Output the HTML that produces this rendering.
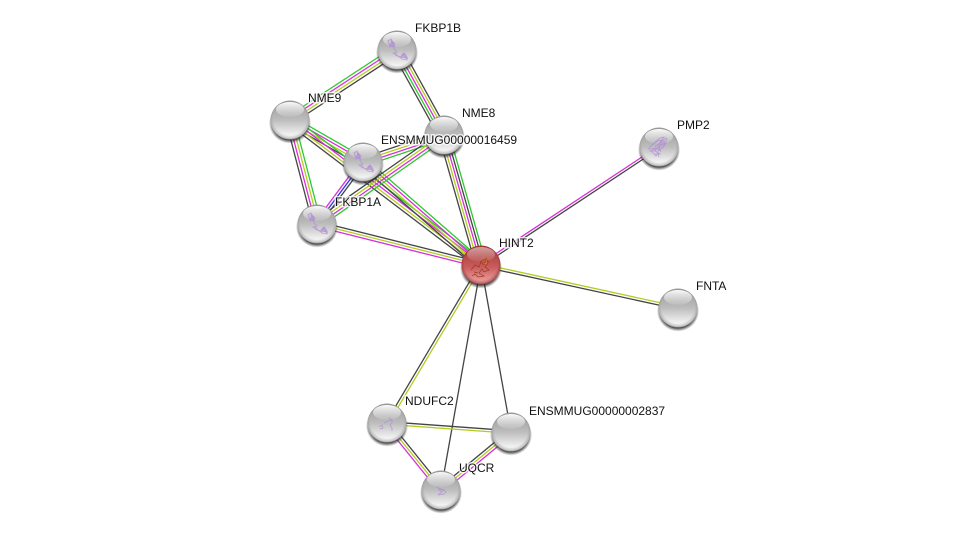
<!DOCTYPE html>
<html><head><meta charset="utf-8"><style>
html,body{margin:0;padding:0;background:#fff;width:975px;height:535px;overflow:hidden}
svg{display:block}
text{font-family:"Liberation Sans",sans-serif;font-size:12px;fill:#111;paint-order:stroke;stroke:#fff;stroke-width:3px;stroke-opacity:.75}
.e line{stroke-width:1.3;fill:none}
.k{stroke:#444}.g{stroke:#2fc72f}.m{stroke:#d92fd9}.y{stroke:#b5cc22}.b{stroke:#3333ee}
.s path{fill:none;stroke:#b08fd6;stroke-width:.8;stroke-opacity:.8}
.r path{fill:none;stroke:#9a3a20;stroke-width:.7}
</style></head><body>
<svg width="975" height="535" viewBox="0 0 975 535" xmlns="http://www.w3.org/2000/svg">
<defs>
<linearGradient id="base" x1="0" y1="0" x2="0" y2="1"><stop offset="0" stop-color="#989898"/><stop offset=".5" stop-color="#bdbdbd"/><stop offset=".88" stop-color="#f2f2f2"/><stop offset="1" stop-color="#fdfdfd"/></linearGradient>
<radialGradient id="rim" cx=".5" cy=".46" r=".54"><stop offset=".8" stop-color="#777" stop-opacity="0"/><stop offset=".95" stop-color="#777" stop-opacity=".4"/><stop offset="1" stop-color="#666" stop-opacity=".85"/></radialGradient>
<linearGradient id="hl" x1="0" y1="0" x2="0" y2="1"><stop offset="0" stop-color="#fff" stop-opacity=".95"/><stop offset="1" stop-color="#fff" stop-opacity=".08"/></linearGradient>
<radialGradient id="sh" cx=".5" cy=".5" r=".5"><stop offset=".82" stop-color="#222" stop-opacity=".85"/><stop offset="1" stop-color="#333" stop-opacity="0"/></radialGradient>
<linearGradient id="redb" x1="0" y1="0" x2="0" y2="1"><stop offset="0" stop-color="#a03434"/><stop offset=".55" stop-color="#c95c5c"/><stop offset="1" stop-color="#f4a8a8"/></linearGradient>
<radialGradient id="redr" cx=".5" cy=".46" r=".54"><stop offset=".8" stop-color="#7a1a1a" stop-opacity="0"/><stop offset=".95" stop-color="#7a1a1a" stop-opacity=".45"/><stop offset="1" stop-color="#701515" stop-opacity=".9"/></radialGradient>
<g id="n"><ellipse cx="0" cy="3" rx="21" ry="20.5" fill="url(#sh)"/><circle r="19.5" fill="url(#base)"/><circle r="19.5" fill="url(#rim)"/><ellipse cx="0" cy="-10.5" rx="14" ry="7.5" fill="url(#hl)"/></g>
<g id="nr"><ellipse cx="0" cy="3" rx="21" ry="20.5" fill="url(#sh)"/><circle r="19.5" fill="url(#redb)"/><circle r="19.5" fill="url(#redr)"/><ellipse cx="0" cy="-10.5" rx="14" ry="7.5" fill="url(#hl)" opacity=".55"/></g>
<g id="p1" fill="none" stroke="#b08fd6" stroke-width=".8" stroke-opacity=".8"><path d="M-9-9l3-2 2 4-3 3 4 1-2-6 3 3-1 5 3 3-4 1 4 3 5 1 2-4 2 3 1 4-5-1-4-3-3-3"/><path d="M-8-7l4 4-2-6 3 2-1 4M5 4l3 3-4 0 4-3 3 5"/><path d="M-9-10l2 7 2-6 2 5M4 6l3-3 2 5-5-1"/></g>
</defs>

<g class="e">
<g transform="translate(290 120) rotate(-33.2)"><line x2="128" y1="-4.2" y2="-4.2" class="g"/><line x2="128" y1="-1.4" y2="-1.4" class="m"/><line x2="128" y1="1.4" y2="1.4" class="y"/><line x2="128" y1="4.2" y2="4.2" class="k"/></g>
<g transform="translate(397 50) rotate(61.06)"><line x2="97" y1="5.2" y2="5.2" class="k"/><line x2="97" y1="2.6" y2="2.6" class="g"/><line x2="97" y1="0" y2="0" class="m"/><line x2="97" y1="-2.6" y2="-2.6" class="y"/><line x2="97" y1="-5.2" y2="-5.2" class="k"/></g>
<g transform="translate(290 120) rotate(29.9)"><line x2="84" y1="-4.2" y2="-4.2" class="g"/><line x2="84" y1="-1.4" y2="-1.4" class="m"/><line x2="84" y1="1.4" y2="1.4" class="y"/><line x2="84" y1="4.2" y2="4.2" class="k"/></g>
<g transform="translate(290 120) rotate(75.4)"><line x2="107" y1="4.2" y2="4.2" class="k"/><line x2="107" y1="1.4" y2="1.4" class="m"/><line x2="107" y1="-1.4" y2="-1.4" class="y"/><line x2="107" y1="-4.2" y2="-4.2" class="g"/></g>
<g transform="translate(290 120) rotate(37.2)"><line x2="240" y1="-4.2" y2="-4.2" class="g"/><line x2="240" y1="-1.4" y2="-1.4" class="m"/><line x2="240" y1="1.4" y2="1.4" class="y"/><line x2="240" y1="4.2" y2="4.2" class="k"/></g>
<g transform="translate(363 162) rotate(-18.4)"><line x2="85" y1="-4.2" y2="-4.2" class="k"/><line x2="85" y1="-1.4" y2="-1.4" class="y"/><line x2="85" y1="1.4" y2="1.4" class="m"/><line x2="85" y1="4.2" y2="4.2" class="g"/></g>
<g transform="translate(363 162) rotate(126.6)"><line x2="77" y1="2.6" y2="2.6" class="m"/><line x2="77" y1="0" y2="0" class="b"/><line x2="77" y1="-2.6" y2="-2.6" class="k"/></g>
<g transform="translate(363 162) rotate(41.1)"><line x2="157" y1="-4.2" y2="-4.2" class="g"/><line x2="157" y1="-1.4" y2="-1.4" class="m"/><line x2="157" y1="1.4" y2="1.4" class="y"/><line x2="157" y1="4.2" y2="4.2" class="k"/></g>
<g transform="translate(444 135) rotate(145)"><line x2="155" y1="4.2" y2="4.2" class="k"/><line x2="155" y1="1.4" y2="1.4" class="y"/><line x2="155" y1="-1.4" y2="-1.4" class="m"/><line x2="155" y1="-4.2" y2="-4.2" class="g"/></g>
<g transform="translate(444 135) rotate(74.1)"><line x2="135" y1="5.2" y2="5.2" class="k"/><line x2="135" y1="2.6" y2="2.6" class="y"/><line x2="135" y1="0" y2="0" class="m"/><line x2="135" y1="-2.6" y2="-2.6" class="k"/><line x2="135" y1="-5.2" y2="-5.2" class="g"/></g>
<g transform="translate(317 224) rotate(14.04)"><line x2="169" y1="-2.6" y2="-2.6" class="k"/><line x2="169" y1="0" y2="0" class="y"/><line x2="169" y1="2.6" y2="2.6" class="m"/></g>
<g transform="translate(481 265) rotate(-33.5)"><line x2="214" y1="-1.2" y2="-1.2" class="m"/><line x2="214" y1="1.2" y2="1.2" class="k"/></g>
<g transform="translate(481 265) rotate(12.3)"><line x2="202" y1="-1.3" y2="-1.3" class="y"/><line x2="202" y1="1.3" y2="1.3" class="k"/></g>
<g transform="translate(481 265) rotate(120.7)"><line x2="184" y1="1.3" y2="1.3" class="k"/><line x2="184" y1="-1.3" y2="-1.3" class="y"/></g>
<line x1="481" y1="265" x2="441" y2="490" class="k"/>
<line x1="481" y1="265" x2="511" y2="432" class="k"/>
<g transform="translate(387 423) rotate(4.15)"><line x2="124" y1="-1.3" y2="-1.3" class="k"/><line x2="124" y1="1.3" y2="1.3" class="y"/></g>
<g transform="translate(387 423) rotate(51.1)"><line x2="86" y1="-2.6" y2="-2.6" class="k"/><line x2="86" y1="0" y2="0" class="y"/><line x2="86" y1="2.6" y2="2.6" class="m"/></g>
<g transform="translate(441 490) rotate(-39.6)"><line x2="91" y1="-2.6" y2="-2.6" class="k"/><line x2="91" y1="0" y2="0" class="y"/><line x2="91" y1="2.6" y2="2.6" class="m"/></g>
</g>

<use href="#n" x="397" y="50"/><use href="#p1" x="397" y="50"/>
<use href="#n" x="290" y="120"/>
<use href="#n" x="444" y="135"/>
<use href="#n" x="363" y="162"/><use href="#p1" x="363" y="162"/>
<use href="#n" x="317" y="224"/><use href="#p1" x="317" y="224"/>
<use href="#n" x="659" y="147"/>
<g class="s" transform="translate(659 147)"><path d="M-11 2l6-6 6-5 4-1-4 5 6-4 1 2-6 5 5-2-3 5-5 3 3-7-6 7 5 3-6 0-3-3 5-3-5 1-3 0M-6 6l3 3 2-3 1 4"/><path d="M-8-1l8-6 3 1-7 6 9-6 1 3-7 6M-10 4l5 0 4-4 3 5"/></g>
<use href="#n" x="678" y="308"/>
<use href="#n" x="387" y="423"/><g class="s" transform="translate(387 423)"><path d="M-8 4l3-2 1 3-3 1M-3 0l8-4 0 4-2 2 2 3 0 3M2-6l2 4"/></g>
<use href="#n" x="511" y="432"/>
<use href="#n" x="441" y="490"/><g class="s" transform="translate(441 490)"><path d="M-5-3l8 3 2 2-2 2-6 1 4-3-4-3M-3-2l6 3"/></g>
<use href="#nr" x="481" y="265"/>
<g class="r" transform="translate(481 265)"><path d="M-10 5l4-5 4 2 2-5 3 3 2-7 2 5-3 4 4 3-5 2-2-3-3 4 5 3-6 1-3-3-3 2M-1-3l5-3 4 3M-7 7l4 1"/><path d="M2-8l3 2 1 4-3 1" style="stroke:#e08020"/></g>

<text x="415" y="32">FKBP1B</text>
<text x="308" y="102">NME9</text>
<text x="462" y="117">NME8</text>
<text x="381" y="144">ENSMMUG00000016459</text>
<text x="335" y="206">FKBP1A</text>
<text x="499" y="247">HINT2</text>
<text x="677" y="129">PMP2</text>
<text x="696" y="290">FNTA</text>
<text x="405" y="405">NDUFC2</text>
<text x="529" y="415">ENSMMUG00000002837</text>
<text x="459" y="472">UQCR</text>
</svg>
</body></html>
